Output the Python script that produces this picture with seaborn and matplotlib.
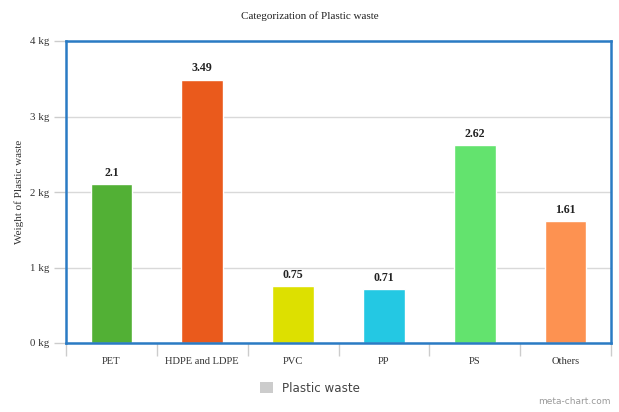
import matplotlib
matplotlib.use("Agg")
import matplotlib.pyplot as plt
import seaborn as sns
import pandas as pd
from matplotlib.patches import Patch
from matplotlib.ticker import FixedLocator

categories = ["PET", "HDPE and LDPE", "PVC", "PP", "PS", "Others"]
weights = [2.1, 3.49, 0.75, 0.71, 2.62, 1.61]
bar_colors = ["#52b035", "#ea5a1c", "#dde000", "#24c8e3", "#63e36e", "#fd9251"]
y_ticks = [0, 1, 2, 3, 4]
y_tick_labels = ["0 kg", "1 kg", "2 kg", "3 kg", "4 kg"]
series_name = "Plastic waste"

sns.set_theme(style="white")
plt.rcParams["font.family"] = ["Liberation Serif", "DejaVu Serif"]

df = pd.DataFrame({"category": categories, "weight": weights})

fig = plt.figure(figsize=(6.19, 4.12), dpi=100)
ax = fig.add_axes([66 / 619, 1 - 343 / 412, 545 / 619, 302 / 412])

sns.barplot(data=df, x="category", y="weight", hue="category",
            palette=bar_colors, legend=False, width=0.46, saturation=1,
            ax=ax)

ax.set_ylim(0, 4)
ax.set_xlim(-0.5, len(categories) - 0.5)
ax.set_yticks(y_ticks)
ax.set_yticklabels(y_tick_labels, fontsize=7.8, color="#333333")
ax.yaxis.grid(True, color="#d9d9d9", linewidth=1)
ax.set_axisbelow(True)
ax.tick_params(axis="y", length=9, width=1, color="#cccccc", pad=3, left=True)

ax.set_xticks(range(len(categories)))
ax.set_xticklabels(categories, fontsize=7.6, color="#333333")
ax.tick_params(axis="x", which="major", length=0, pad=10)
ax.xaxis.set_minor_locator(FixedLocator([i - 0.5 for i in range(len(categories) + 1)]))
ax.tick_params(axis="x", which="minor", length=9, width=1, color="#cccccc", bottom=True)

for s in ax.spines.values():
    s.set_color("#2a7bc4")
    s.set_linewidth(1.8)

ax.set_xlabel("")
ax.set_ylabel("Weight of Plastic waste", fontsize=8, color="#333333", labelpad=4)

for i, v in enumerate(weights):
    ax.text(i, v + 0.07, f"{v:g}", ha="center", va="bottom",
            fontsize=8.6, fontweight="bold", color="#222222")

fig.text(0.5, 1 - 16 / 412, "Categorization of Plastic waste",
         ha="center", va="center", fontsize=8, color="#222222")

fig.legend(handles=[Patch(facecolor="#cccccc", edgecolor="none")],
           labels=[series_name], loc="center",
           bbox_to_anchor=(310 / 619, 1 - 388 / 412), frameon=False,
           handlelength=1.1, handleheight=1.1, handletextpad=0.7,
           prop={"family": "DejaVu Sans", "size": 8.6}, labelcolor="#444444")

fig.text(1 - 8 / 619, 6 / 412, "meta-chart.com", ha="right", va="bottom",
         fontsize=6.5, color="#9a9a9a", family="DejaVu Sans")

fig.savefig("out.png", dpi=100)
